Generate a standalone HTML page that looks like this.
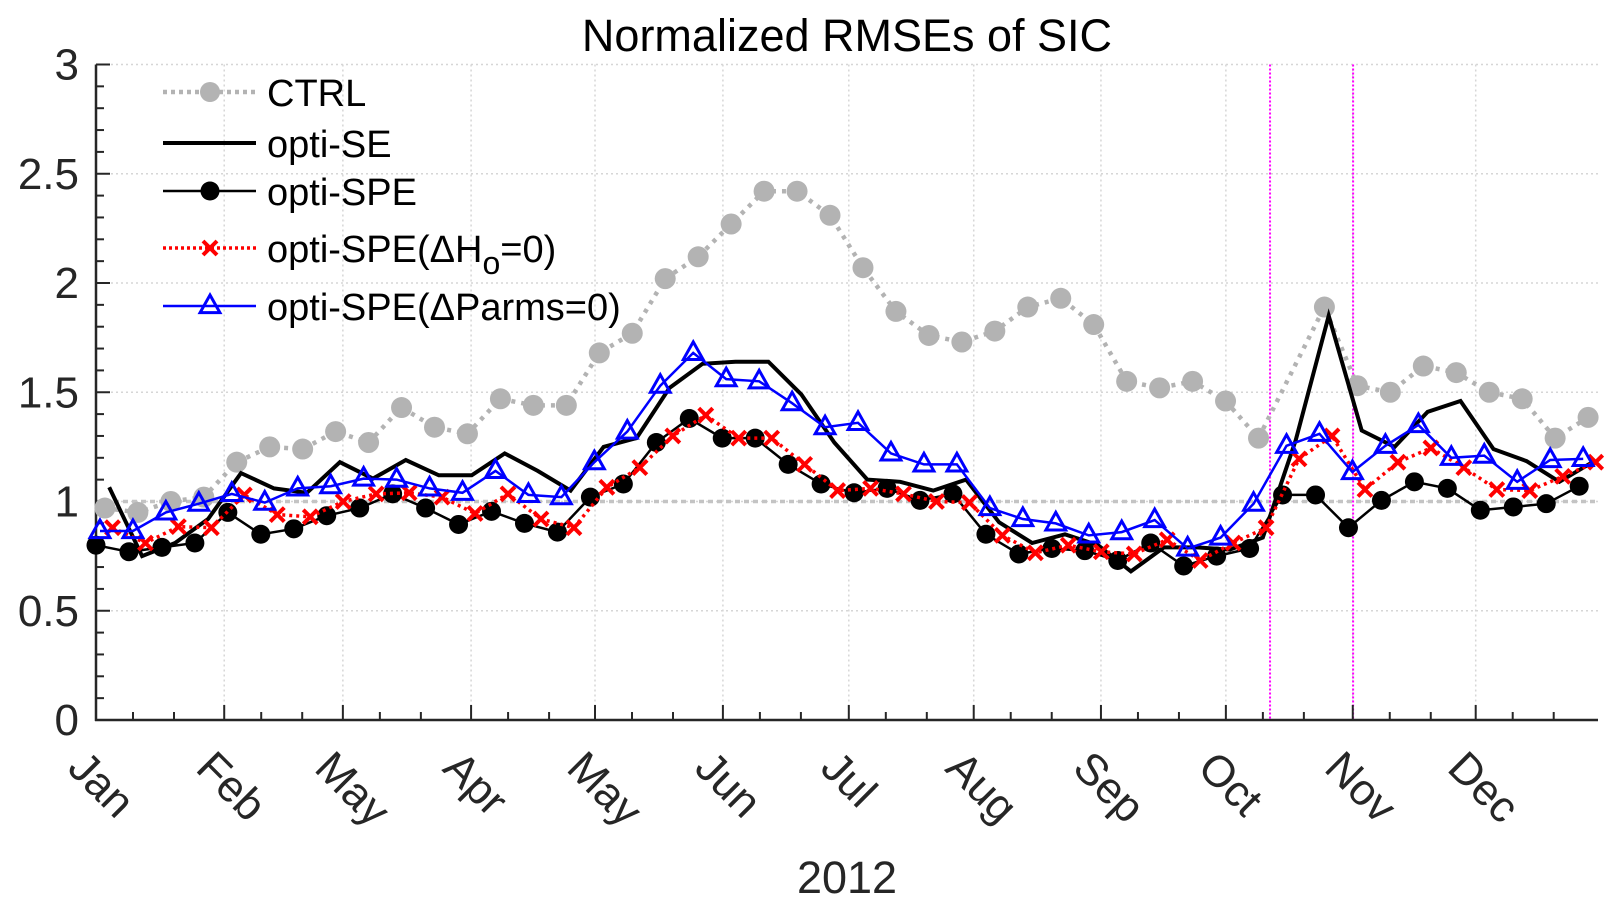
<!DOCTYPE html>
<html><head><meta charset="utf-8"><style>
html,body{margin:0;padding:0;background:#fff;}
svg{display:block;font-family:"Liberation Sans",Arial,sans-serif;}
</style></head><body>
<svg id="chart" width="1621" height="908" viewBox="0 0 1621 908">
<text x="847" y="51" text-anchor="middle" font-size="45" fill="#000">Normalized RMSEs of SIC</text>
<g id="grid"></g><g id="axes"></g><g id="series"></g><g id="legend"></g>
<text x="847" y="893" text-anchor="middle" font-size="45" fill="#262626">2012</text>
</svg>
<script>
const monthLabels=["Jan","Feb","May","Apr","May","Jun","Jul","Aug","Sep","Oct","Nov","Dec"];
const monthPos=[0,3.89,7.49,11.38,15.14,19.02,22.84,26.63,30.49,34.28,38.13,41.86];
const yTicks=[0,0.5,1,1.5,2,2.5,3];
const markerWeeks=[35.62,38.14];
const ctrl=[0.97,0.95,1.00,1.02,1.18,1.25,1.24,1.32,1.27,1.43,1.34,1.31,1.47,1.44,1.44,1.68,1.77,2.02,2.12,2.27,2.42,2.42,2.31,2.07,1.87,1.76,1.73,1.78,1.89,1.93,1.81,1.55,1.52,1.55,1.46,1.29,null,1.89,1.53,1.50,1.62,1.59,1.50,1.47,1.29,1.385];
const optiSE=[1.065,0.75,0.81,0.92,1.13,1.06,1.04,1.18,1.105,1.19,1.12,1.12,1.22,1.14,1.05,1.25,1.29,1.52,1.63,1.64,1.64,1.49,1.27,1.10,1.09,1.05,1.10,0.905,0.81,0.85,0.80,0.68,0.79,0.79,0.78,0.835,1.28,1.85,1.325,1.25,1.41,1.46,1.24,1.185,1.09,1.18];
const optiSPE=[0.80,0.77,0.79,0.81,0.95,0.85,0.875,0.935,0.97,1.035,0.97,0.895,0.955,0.90,0.86,1.02,1.08,1.27,1.38,1.29,1.29,1.17,1.08,1.04,1.06,1.005,1.035,0.85,0.76,0.785,0.775,0.73,0.81,0.705,0.75,0.785,1.03,1.03,0.88,1.005,1.09,1.06,0.96,0.975,0.99,1.07];
const optiH0=[0.88,0.81,0.885,0.88,1.03,0.94,0.93,1.00,1.035,1.04,1.02,0.945,1.035,0.92,0.88,1.065,1.155,1.30,1.395,1.29,1.29,1.17,1.05,1.06,1.035,1.00,0.995,0.845,0.765,0.80,0.77,0.76,0.825,0.73,0.81,0.88,1.195,1.30,1.055,1.18,1.245,1.155,1.055,1.05,1.115,1.18];
const optiP0=[0.865,0.865,0.95,0.99,1.035,0.995,1.06,1.07,1.105,1.10,1.06,1.04,1.14,1.03,1.02,1.18,1.32,1.53,1.68,1.56,1.55,1.45,1.34,1.36,1.22,1.17,1.17,0.97,0.92,0.90,0.845,0.86,0.915,0.785,0.835,0.99,1.255,1.31,1.135,1.255,1.35,1.20,1.21,1.09,1.19,1.195];

const NS="http://www.w3.org/2000/svg";
const X0=96,X1=1598,Y0=720,Y3=64.5,WK=32.96;
const xS=w=>X0+WK*w;
const yS=v=>Y0-(Y0-Y3)*v/3;
function mk(tag,attrs,parent){const e=document.createElementNS(NS,tag);for(const k in attrs)e.setAttribute(k,attrs[k]);parent.appendChild(e);return e;}
const grid=document.getElementById('grid'),axes=document.getElementById('axes'),ser=document.getElementById('series'),leg=document.getElementById('legend');

yTicks.forEach(v=>{if(v===0)return;const l=mk('line',{x1:X0,x2:X1,y1:yS(v),y2:yS(v),stroke:'#d6d6d6','stroke-width':1.5,'stroke-dasharray':'2,3'},grid);

});
monthPos.forEach((m,i)=>{if(i===0)return;const l=mk('line',{x1:xS(m),x2:xS(m),y1:Y3,y2:Y0,stroke:'#d6d6d6','stroke-width':1.5,'stroke-dasharray':'2,3'},grid);

});
const ref=mk('line',{x1:X0,x2:X1,y1:yS(1),y2:yS(1),stroke:'#c4c4c4','stroke-width':3.5,'stroke-dasharray':'5,4'},grid);


markerWeeks.forEach(w=>{const l=mk('line',{x1:xS(w),x2:xS(w),y1:Y3,y2:Y0,stroke:'#ff00ff','stroke-width':2,'stroke-dasharray':'2,2'},grid);

});

const ya=mk('line',{x1:X0,x2:X0,y1:Y3,y2:Y0+1,stroke:'#262626','stroke-width':2.5},axes);


const xa=mk('line',{x1:X0-1,x2:X1,y1:Y0,y2:Y0,stroke:'#262626','stroke-width':2.5},axes);


for(let k=1;k<=30;k++){const v=k/10;const major=(k%5===0);
 const t=mk('line',{x1:X0,x2:X0+(major?14:8),y1:yS(v),y2:yS(v),stroke:'#262626','stroke-width':2},axes);
 
 }
yTicks.forEach(v=>{const t=mk('text',{x:79,y:yS(v)+15,'text-anchor':'end','font-size':44,fill:'#262626'},axes);t.textContent=String(v);

});
monthPos.forEach((m,i)=>{const x=xS(m);
 const t=mk('line',{x1:x,x2:x,y1:Y0,y2:Y0-15,stroke:'#262626','stroke-width':2},axes);
 
 
 [37,78].forEach(d=>{if(x+d<X1){const mt=mk('line',{x1:x+d,x2:x+d,y1:Y0,y2:Y0-8,stroke:'#262626','stroke-width':2},axes);
 
 }});
 const lb=mk('text',{x:x-30,y:Y0+50,'font-size':44,fill:'#262626',transform:`rotate(45 ${x-30} ${Y0+50})`},axes);lb.textContent=monthLabels[i];
 
 });

function pathFor(vals,off){let d='',pen=false;vals.forEach((v,i)=>{if(v===null)return;d+=(pen?'L':'M')+xS(i+off).toFixed(1)+' '+yS(v).toFixed(1)+' ';pen=true;});return d;}
function circle(x,y,r,fill,parent,name){const c=mk('circle',{cx:x,cy:y,r:r,fill:fill},parent);return c;}
function cross(x,y,s,parent,name){const g=mk('path',{d:`M${x-s} ${y-s}L${x+s} ${y+s}M${x-s} ${y+s}L${x+s} ${y-s}`,stroke:'#ff0000','stroke-width':4,fill:'none'},parent);return g;}
function tri(x,y,s,parent,name){const g=mk('path',{d:`M${x} ${y-s}L${x+s*0.9} ${y+s*0.6}L${x-s*0.9} ${y+s*0.6}Z`,stroke:'#0000ff','stroke-width':3,fill:'none'},parent);return g;}

const gC=mk('g',{},ser);


mk('path',{d:pathFor(ctrl,0.27),stroke:'#b3b3b3','stroke-width':4.5,fill:'none','stroke-dasharray':'4,6'},gC);
ctrl.forEach((v,i)=>{if(v!==null)circle(xS(i+0.27),yS(v),10.5,'#b3b3b3',gC,'ctrl-point');});
const gSE=mk('g',{},ser);


mk('path',{d:pathFor(optiSE,0.4),stroke:'#000','stroke-width':4,fill:'none','stroke-linejoin':'miter'},gSE);
const gS=mk('g',{},ser);


mk('path',{d:pathFor(optiSPE,0),stroke:'#000','stroke-width':2.5,fill:'none'},gS);
optiSPE.forEach((v,i)=>circle(xS(i),yS(v),9.5,'#000',gS,'opti-spe-point'));
const gH=mk('g',{},ser);


mk('path',{d:pathFor(optiH0,0.5),stroke:'#ff0000','stroke-width':3.5,fill:'none','stroke-dasharray':'3,4'},gH);
optiH0.forEach((v,i)=>cross(xS(i+0.5),yS(v),7,gH,'opti-spe-dh0-point'));
const gP=mk('g',{},ser);


mk('path',{d:pathFor(optiP0,0.12),stroke:'#0000ff','stroke-width':2.5,fill:'none'},gP);
optiP0.forEach((v,i)=>tri(xS(i+0.12),yS(v),11,gP,'opti-spe-dparms0-point'));

const rows=[92,143,191,248,306];
function legRow(){const g=mk('g',{},leg);return g;}
let g;
g=legRow();

mk('line',{x1:163,x2:256,y1:rows[0],y2:rows[0],stroke:'#b3b3b3','stroke-width':4.5,'stroke-dasharray':'4,4'},g);circle(210,rows[0],10,'#b3b3b3',g,'legend-marker');
g=legRow();

mk('line',{x1:163,x2:256,y1:rows[1],y2:rows[1],stroke:'#000','stroke-width':4},g);
g=legRow();

mk('line',{x1:163,x2:256,y1:rows[2],y2:rows[2],stroke:'#000','stroke-width':2.5},g);circle(210,rows[2],9.5,'#000',g,'legend-marker');
g=legRow();

mk('line',{x1:163,x2:256,y1:rows[3],y2:rows[3],stroke:'#ff0000','stroke-width':3.5,'stroke-dasharray':'3,3'},g);cross(210,rows[3],7,g,'legend-marker');
g=legRow();

mk('line',{x1:163,x2:256,y1:rows[4],y2:rows[4],stroke:'#0000ff','stroke-width':2.5},g);tri(210,rows[4],11,g,'legend-marker');

const items=[[92,'CTRL'],[143,'opti-SE'],[191,'opti-SPE'],[306,'opti-SPE(\u0394Parms=0)']];
items.forEach(([y,t])=>{const e=mk('text',{x:267,y:y+14,'font-size':38,fill:'#000'},leg);e.textContent=t;

});
const e=mk('text',{x:267,y:262,'font-size':38,fill:'#000'},leg);


e.innerHTML='opti-SPE(\u0394H<tspan dy="12" font-size="32">o</tspan><tspan dy="-12">=0)</tspan>';
</script>
</body></html>
